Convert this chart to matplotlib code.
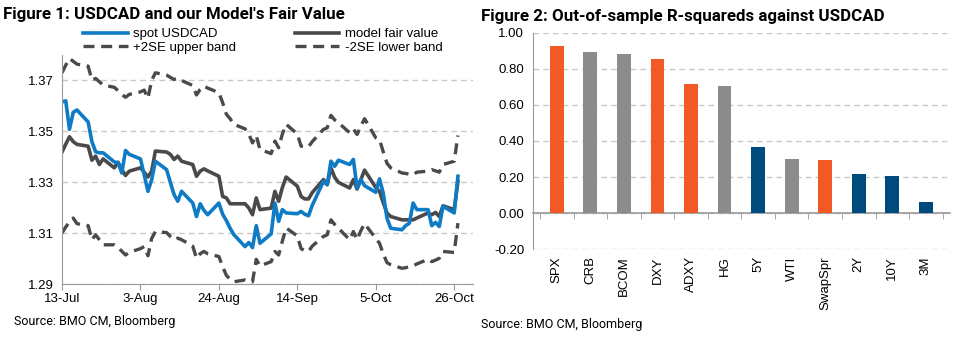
import matplotlib
matplotlib.use('Agg')
import matplotlib.pyplot as plt
import matplotlib.dates as mdates
import numpy as np
import pandas as pd

# business days 13-Jul-2020 .. 27-Oct-2020
dates = pd.bdate_range('2020-07-13', '2020-10-27')

spot = [1.3616, 1.3620, 1.3508, 1.3575, 1.3584,
        1.3537, 1.3460, 1.3420, 1.3416, 1.3416,
        1.3380, 1.3377, 1.3337, 1.3425, 1.3410,
        1.3392, 1.3330, 1.3265, 1.3310, 1.3383,
        1.3350, 1.3300, 1.3252, 1.3226, 1.3265,
        1.3219, 1.3166, 1.3216, 1.3190, 1.3173,
        1.3219, 1.3175, 1.3150, 1.3120, 1.3095,
        1.3048, 1.3064, 1.3044, 1.3130, 1.3061,
        1.3098, 1.3219, 1.3147, 1.3193, 1.3180,
        1.3177, 1.3186, 1.3175, 1.3169, 1.3210,
        1.3304, 1.3291, 1.3383, 1.3363, 1.3387,
        1.3370, 1.3390, 1.3278, 1.3311, 1.3287,
        1.3261, 1.3314, 1.3258, 1.3160, 1.3120,
        1.3114, 1.3130, 1.3140, 1.3219, 1.3193,
        1.3193, 1.3130, 1.3143, 1.3127, 1.3206,
        1.3180, 1.3324]

model = [1.3419, 1.3450, 1.3479, 1.3460, 1.3449,
         1.3442, 1.3387, 1.3403, 1.3370, 1.3392,
         1.3357, 1.3379, 1.3350, 1.3327, 1.3344,
         1.3357, 1.3340, 1.3321, 1.3344, 1.3423,
         1.3419, 1.3410, 1.3390, 1.3403, 1.3383,
         1.3370, 1.3324, 1.3344, 1.3353, 1.3345,
         1.3324, 1.3245, 1.3239, 1.3216, 1.3216,
         1.3216, 1.3200, 1.3173, 1.3239, 1.3193,
         1.3199, 1.3265, 1.3226, 1.3280, 1.3321,
         1.3285, 1.3245, 1.3235, 1.3235, 1.3260,
         1.3311, 1.3291, 1.3357, 1.3320, 1.3300,
         1.3278, 1.3311, 1.3274, 1.3310, 1.3348,
         1.3280, 1.3265, 1.3220, 1.3180, 1.3166,
         1.3153, 1.3153, 1.3153, 1.3153, 1.3160,
         1.3180, 1.3173, 1.3182, 1.3166, 1.3208,
         1.3193, 1.3304]

upper = [1.3730, 1.3760, 1.3786, 1.3775, 1.3764,
         1.3756, 1.3701, 1.3708, 1.3695, 1.3682,
         1.3673, 1.3660, 1.3645, 1.3634, 1.3645,
         1.3655, 1.3662, 1.3630, 1.3700, 1.3730,
         1.3721, 1.3712, 1.3704, 1.3708, 1.3700,
         1.3680, 1.3643, 1.3665, 1.3678, 1.3670,
         1.3652, 1.3613, 1.3567, 1.3550, 1.3528,
         1.3510, 1.3490, 1.3455, 1.3484, 1.3429,
         1.3413, 1.3462, 1.3436, 1.3490, 1.3528,
         1.3490, 1.3442, 1.3440, 1.3440, 1.3460,
         1.3508, 1.3514, 1.3563, 1.3545, 1.3534,
         1.3495, 1.3510, 1.3488, 1.3520, 1.3550,
         1.3475, 1.3468, 1.3420, 1.3375, 1.3357,
         1.3337, 1.3335, 1.3332, 1.3330, 1.3340,
         1.3344, 1.3350, 1.3345, 1.3340, 1.3370,
         1.3383, 1.3484]

lower = [1.3101, 1.3125, 1.3145, 1.3160, 1.3138,
         1.3130, 1.3075, 1.3094, 1.3075, 1.3055,
         1.3055, 1.3045, 1.3030, 1.3015, 1.3025,
         1.3040, 1.3048, 1.3012, 1.3080, 1.3107,
         1.3103, 1.3088, 1.3075, 1.3081, 1.3075,
         1.3050, 1.3002, 1.3020, 1.3029, 1.3020,
         1.3009, 1.2970, 1.2935, 1.2920, 1.2910,
         1.2917, 1.2912, 1.2910, 1.2998, 1.2972,
         1.2989, 1.3029, 1.3015, 1.3070, 1.3121,
         1.3090, 1.3040, 1.3032, 1.3029, 1.3050,
         1.3088, 1.3094, 1.3153, 1.3135, 1.3120,
         1.3075, 1.3107, 1.3075, 1.3110, 1.3138,
         1.3080, 1.3061, 1.3020, 1.2985, 1.2977,
         1.2963, 1.2965, 1.2970, 1.2972, 1.2980,
         1.2998, 1.2989, 1.2995, 1.3002, 1.3029,
         1.3025, 1.3140]

xtick_dates = ['2020-07-13', '2020-08-03', '2020-08-24', '2020-09-14', '2020-10-05', '2020-10-26']

# figure 2
factors = ['SPX', 'CRB', 'BCOM', 'DXY', 'ADXY', 'HG', '5Y', 'WTI', 'SwapSpr', '2Y', '10Y', '3M']
r2 = [0.925, 0.892, 0.881, 0.853, 0.713, 0.702, 0.369, 0.300, 0.295, 0.218, 0.204, 0.063]
groups = ['eq', 'cmd', 'cmd', 'eq', 'eq', 'cmd', 'rate', 'cmd', 'eq', 'rate', 'rate', 'rate']

group_colors = {'eq': '#f15a24', 'cmd': '#8c8c8c', 'rate': '#004b7d'}

plt.rcParams['font.family'] = ['Liberation Sans', 'DejaVu Sans']
title_font = ['Roboto', 'DejaVu Sans']

blue = '#0f7bc4'
dark = '#4a4a4a'
grid_c = '#c8c8c8'
axis_c = '#9a9a9a'

fig = plt.figure(figsize=(9.69, 3.5), dpi=100)

# ---- left chart
ax1 = fig.add_axes([0.064, 0.1877, 0.424, 0.6553])
ax1.plot(dates, upper, color=dark, lw=2.4, ls=(0, (3.3, 2.0)), label='+2SE upper band')
ax1.plot(dates, lower, color=dark, lw=2.4, ls=(0, (3.3, 2.0)), label='-2SE lower band')
ax1.plot(dates, model, color=dark, lw=2.6, label='model fair value')
ax1.plot(dates, spot, color=blue, lw=2.6, label='spot USDCAD')

ax1.set_ylim(1.29, 1.38)
ax1.set_yticks([1.29, 1.31, 1.33, 1.35, 1.37])
ax1.set_yticklabels(['1.29', '1.31', '1.33', '1.35', '1.37'])
ax1.set_xlim(pd.Timestamp('2020-07-13'), pd.Timestamp('2020-10-31'))
ax1.set_xticks([pd.Timestamp(d) for d in xtick_dates])
ax1.xaxis.set_major_formatter(mdates.DateFormatter('%-d-%b'))
ax1.grid(axis='y', color=grid_c, ls=(0, (4, 3)), lw=1)
ax1.set_axisbelow(True)
for s in ['top', 'right']:
    ax1.spines[s].set_visible(False)
for s in ['left', 'bottom']:
    ax1.spines[s].set_color(axis_c)
ax1.tick_params(axis='y', length=0, labelsize=9.5, pad=6)
ax1.tick_params(axis='x', length=4, color=axis_c, labelsize=9.5, pad=2)

h, l = ax1.get_legend_handles_labels()
order = [3, 0, 2, 1]
fig.legend([h[i] for i in order], [l[i] for i in order], ncol=2, frameon=False,
           loc='upper left', bbox_to_anchor=(0.086, 0.92), fontsize=9.5,
           handlelength=3.4, handletextpad=0.4, labelspacing=0.1, columnspacing=4.4,
           borderaxespad=0, borderpad=0)

fig.text(0.003, 0.96, "Figure 1: USDCAD and our Model's Fair Value", fontsize=12.2,
         fontweight='bold', family=title_font, va='center', ha='left')
fig.text(0.014, 0.08, 'Source: BMO CM, Bloomberg', fontsize=9, family=title_font,
         va='center', ha='left')

# ---- right chart
ax2 = fig.add_axes([0.5497, 0.2877, 0.4307, 0.6189])
x = np.arange(len(factors))
ax2.bar(x, r2, width=0.41, color=[group_colors[g] for g in groups], zorder=3)
ax2.set_ylim(-0.2, 1.0)
ax2.set_xlim(-0.72, len(factors) - 0.28)
ax2.set_yticks(np.arange(-0.2, 1.01, 0.2))
ax2.set_yticklabels(['%.2f' % v for v in np.arange(-0.2, 1.01, 0.2)])
ax2.grid(axis='y', color=grid_c, ls=(0, (4, 3)), lw=1)
ax2.set_axisbelow(True)
for s in ['top', 'right']:
    ax2.spines[s].set_visible(False)
ax2.spines['left'].set_color(axis_c)
ax2.spines['bottom'].set_color(axis_c)
ax2.spines['bottom'].set_position(('data', 0))
ax2.spines['bottom'].set_linewidth(1.2)
ax2.set_xticks(x)
ax2.set_xticklabels(factors, rotation=90, va='top', ha='center')
ax2.set_xticks(np.arange(-0.5, len(factors), 1), minor=True)
ax2.tick_params(axis='x', which='major', length=0, labelsize=9.5, pad=31)
ax2.tick_params(axis='x', which='minor', length=4, color=axis_c)
ax2.tick_params(axis='y', length=0, labelsize=9.5, pad=6)

fig.text(0.4965, 0.952, 'Figure 2: Out-of-sample R-squareds against USDCAD', fontsize=12.2,
         fontweight='bold', family=title_font, va='center', ha='left')
fig.text(0.4965, 0.072, 'Source: BMO CM, Bloomberg', fontsize=9, family=title_font,
         va='center', ha='left')

fig.savefig('out.png', dpi=100)
